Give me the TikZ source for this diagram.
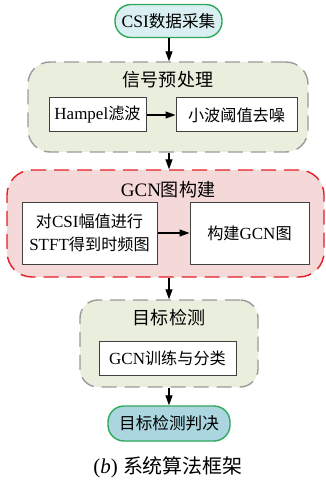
\documentclass[tikz,border=0pt]{standalone}
\usepackage{fontspec}
\setmainfont{Liberation Serif}
\newfontfamily\cjk{Noto Sans CJK SC}[Scale=0.95]
\newcommand{\zh}[1]{{\cjk #1}}
\usetikzlibrary{arrows.meta}
\definecolor{grpgreen}{HTML}{EAEEDD}
\definecolor{grppink}{HTML}{F5D8D8}
\definecolor{termlight}{HTML}{DAEFF2}
\definecolor{termdark}{HTML}{ABD5DF}
\definecolor{termedge}{HTML}{2EA85A}
\definecolor{grayedge}{HTML}{9A9A9A}
\definecolor{rededge}{HTML}{E31E24}
\tikzset{
  term/.style={draw=termedge, line width=1.4pt, rounded corners=16pt, minimum height=33pt, inner sep=0pt, font=\fontsize{17.5}{19}\selectfont},
  grp/.style={line width=1.4pt, dash pattern=on 15pt off 8pt, rounded corners=22pt},
  inbox/.style={draw=black!75, line width=1pt, fill=white, inner sep=0pt, align=center, font=\fontsize{17}{23}\selectfont},
  ttl/.style={font=\fontsize{19}{20}\selectfont, inner sep=0pt},
  arr/.style={line width=1.2pt, -{Triangle[length=10pt,width=7pt]}},
}
\begin{document}
\begin{tikzpicture}[x=1pt,y=-1pt]
\useasboundingbox (0,0) rectangle (326,481);
% groups
\node[grp, draw=grayedge, fill=grpgreen, minimum width=280pt, minimum height=90pt] (g1) at (168,107) {};
\node[grp, draw=rededge, fill=grppink, minimum width=317pt, minimum height=107pt, rounded corners=25pt] (g2) at (165.5,223.5) {};
\node[grp, draw=grayedge, fill=grpgreen, minimum width=178pt, minimum height=87pt, rounded corners=18pt] (g3) at (169,343.5) {};
% titles
\node[ttl] (t1) at (168,80) {\zh{信号预处理}};
\node[ttl] (t2) at (168,190) {GCN\zh{图构建}};
\node[ttl] (t3) at (169,318) {\zh{目标检测}};
% terminals
\node[term, fill=termlight, minimum width=107pt] (s) at (168.5,21) {CSI\zh{数据采集}};
\node[term, fill=termdark, minimum width=122pt, minimum height=35pt] (e) at (169,423.5) {\zh{目标检测判决}};
% inner boxes
\node[inbox, minimum width=97pt, minimum height=34pt] (h) at (97.5,115) {Hampel\zh{滤波}};
\node[inbox, minimum width=121pt, minimum height=34pt] (w) at (236.5,115) {\zh{小波阈值去噪}};
\node[inbox, minimum width=135pt, minimum height=62pt] (f) at (89.5,233) {\zh{对}CSI\zh{幅值进行}\\STFT\zh{得到时频图}};
\node[inbox, minimum width=119pt, minimum height=62pt] (b) at (249.5,233) {\zh{构建}GCN\zh{图}};
\node[inbox, minimum width=137pt, minimum height=34pt] (c) at (167.5,358) {GCN\zh{训练与分类}};
% caption
\node[font=\fontsize{21}{23}\selectfont, inner sep=0pt] (cap) at (168,467) {(\textit{b}) \zh{系统算法框架}};
% arrows
\draw[arr] (s.south -| 169,0) -- (g1.north -| 169,0);
\draw[arr] (h) -- (w);
\draw[arr] (g1.south -| 169,0) -- (g2.north -| 169,0);
\draw[arr] (f) -- (b);
\draw[arr] (g2.south -| 169,0) -- (g3.north -| 169,0);
\draw[arr] (g3.south -| 169,0) -- (e.north -| 169,0);
\end{tikzpicture}
\end{document}
